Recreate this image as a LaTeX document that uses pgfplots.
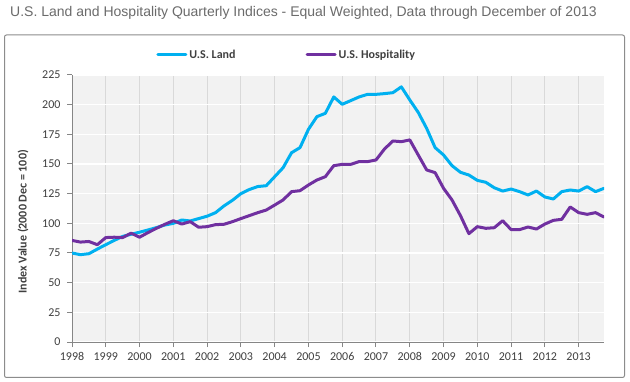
\documentclass[border=0pt]{standalone}
\usepackage{pgfplots}
\pgfplotsset{compat=1.18}
\usepackage{pgfplotstable}
\usepackage{fontspec}
\setmainfont{Carlito}
\newfontfamily\arialfont{Liberation Sans}
\definecolor{landblue}{HTML}{00B0F0}
\definecolor{hospurple}{HTML}{7030A0}
\definecolor{bggray}{HTML}{F2F2F2}
\definecolor{vgrid}{HTML}{D9D9D9}
\definecolor{axisgray}{HTML}{868686}
\definecolor{labelgray}{HTML}{404040}
\definecolor{titlegray}{HTML}{6B6B6B}
\definecolor{bordergray}{HTML}{8C8C8C}
\pgfplotstableread{
x y
1998.00 75.0
1998.25 73.6
1998.50 74.4
1998.75 78.3
1999.00 82.0
1999.25 85.6
1999.50 89.0
1999.75 90.8
2000.00 92.5
2000.25 94.4
2000.50 96.4
2000.75 98.6
2001.00 100.0
2001.25 102.8
2001.50 102.0
2001.75 104.0
2002.00 106.0
2002.25 109.0
2002.50 114.7
2002.75 119.4
2003.00 125.0
2003.25 128.5
2003.50 131.0
2003.75 131.7
2004.00 139.3
2004.25 146.9
2004.50 159.5
2004.75 163.8
2005.00 179.2
2005.25 189.9
2005.50 192.7
2005.75 206.5
2006.00 200.3
2006.25 203.4
2006.50 206.5
2006.75 208.7
2007.00 208.7
2007.25 209.3
2007.50 210.1
2007.75 215.0
2008.00 204.0
2008.25 193.5
2008.50 180.0
2008.75 163.8
2009.00 157.6
2009.25 148.6
2009.50 143.0
2009.75 140.7
2010.00 136.2
2010.25 134.6
2010.50 130.0
2010.75 127.2
2011.00 128.9
2011.25 126.7
2011.50 123.9
2011.75 127.2
2012.00 122.2
2012.25 120.5
2012.50 126.7
2012.75 128.1
2013.00 127.2
2013.25 130.9
2013.50 126.7
2013.75 129.5
}\landdata
\pgfplotstableread{
x y
1998.00 85.6
1998.25 84.2
1998.50 84.7
1998.75 82.0
1999.00 88.0
1999.25 88.3
1999.50 88.0
1999.75 91.7
2000.00 88.3
2000.25 92.2
2000.50 95.8
2000.75 99.2
2001.00 102.2
2001.25 99.4
2001.50 101.4
2001.75 96.7
2002.00 97.2
2002.25 98.9
2002.50 99.2
2002.75 101.4
2003.00 104.0
2003.25 106.5
2003.50 109.0
2003.75 111.2
2004.00 115.4
2004.25 119.7
2004.50 126.7
2004.75 127.5
2005.00 132.3
2005.25 136.5
2005.50 139.3
2005.75 148.6
2006.00 149.7
2006.25 149.7
2006.50 152.0
2006.75 152.0
2007.00 153.4
2007.25 162.6
2007.50 169.4
2007.75 168.8
2008.00 170.3
2008.25 157.6
2008.50 145.0
2008.75 142.7
2009.00 129.5
2009.25 119.7
2009.50 106.5
2009.75 91.3
2010.00 97.2
2010.25 95.8
2010.50 96.3
2010.75 102.2
2011.00 94.7
2011.25 94.7
2011.50 96.9
2011.75 95.2
2012.00 99.4
2012.25 102.5
2012.50 103.4
2012.75 113.8
2013.00 109.0
2013.25 107.6
2013.50 109.0
2013.75 105.3
}\hospdata
\begin{document}
\begin{tikzpicture}
\path[fill=white] (0,0) rectangle (630bp,382bp);
\draw[bordergray, line width=1bp, rounded corners=2bp] (4.5bp,4.5bp) rectangle (624.5bp,347bp);
\node[font=\arialfont\fontsize{14bp}{16bp}\selectfont, text=titlegray, anchor=west, inner sep=0pt] at (10bp,369bp) {U.S. Land and Hospitality Quarterly Indices - Equal Weighted, Data through December of 2013};
\begin{axis}[
  at={(72bp,40bp)}, anchor=south west,
  scale only axis, width=532bp, height=267bp,
  xmin=1998, xmax=2013.75, ymin=0, ymax=225,
  xtick={1998,1999,...,2013}, ytick={0,25,...,225},
  axis lines*=left, axis line style={axisgray, line width=1bp, -},
  axis background/.style={fill=bggray},
  xmajorgrids, ymajorgrids,
  x grid style={vgrid, line width=1bp},
  y grid style={white, line width=1.2bp},
  tick align=outside, major tick length=5bp,
  tick style={axisgray, line width=1bp},
  /pgf/number format/assume math mode=true,
  /pgf/number format/1000 sep={},
  ticklabel style={font=\fontsize{12bp}{14bp}\selectfont, text=labelgray},
  xticklabel style={yshift=-2bp},
  yticklabel style={xshift=-3bp},
  ylabel={Index Value (2000 Dec = 100)},
  every axis y label/.style={at={(axis description cs:-0.092,0.45)}, rotate=90, anchor=center,
    font=\bfseries\fontsize{12bp}{14bp}\selectfont, text=labelgray},
  legend columns=2,
  legend style={draw=none, fill=none, at={(axis description cs:0.158,1.075)}, anchor=west,
    font=\bfseries\fontsize{12bp}{14bp}\selectfont, text=labelgray, inner sep=0pt,
    /tikz/every even column/.append style={column sep=68bp}},
  legend image code/.code={\draw[#1, line width=3bp] (0bp,0bp) -- (28bp,0bp);},
  legend cell align=left,
]
\addplot[landblue, line width=3bp, line join=round, line cap=round] table[x=x,y=y] {\landdata};
\addlegendentry{U.S. Land}
\addplot[hospurple, line width=3bp, line join=round, line cap=round] table[x=x,y=y] {\hospdata};
\addlegendentry{U.S. Hospitality}
\end{axis}
\end{tikzpicture}
\end{document}
